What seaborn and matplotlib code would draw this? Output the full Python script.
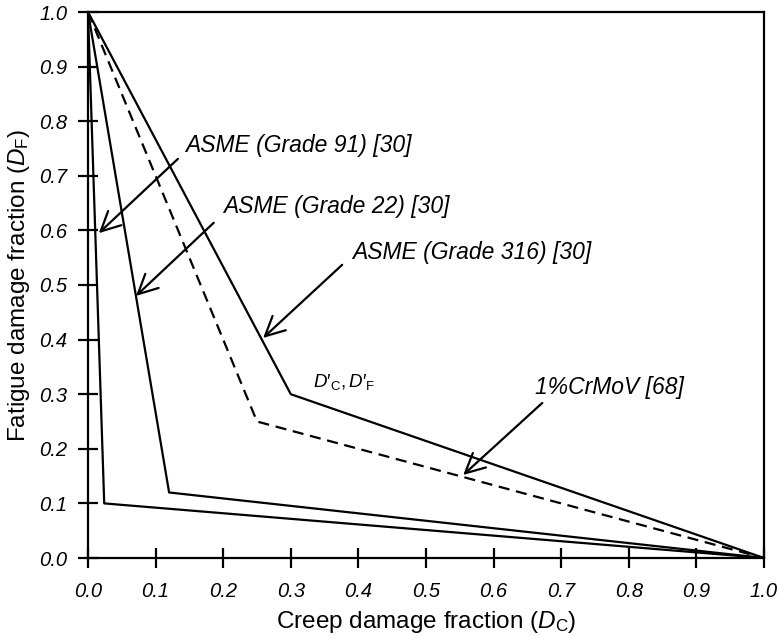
import matplotlib
matplotlib.use("Agg")
import matplotlib.pyplot as plt
import seaborn as sns
import pandas as pd

# Bilinear creep-fatigue interaction envelopes (creep fraction D_C, fatigue fraction D_F)
dc_grade91 = [0.0, 0.024, 1.0]
df_grade91 = [1.0, 0.10, 0.0]
dc_grade22 = [0.0, 0.12, 1.0]
df_grade22 = [1.0, 0.12, 0.0]
dc_grade316 = [0.0, 0.30, 1.0]
df_grade316 = [1.0, 0.30, 0.0]
dc_crmov = [0.0, 0.25, 1.0]
df_crmov = [1.0, 0.25, 0.0]

curve_names = ["ASME (Grade 91) [30]", "ASME (Grade 22) [30]",
               "ASME (Grade 316) [30]", "1%CrMoV [68]"]

ticks = [0.0, 0.1, 0.2, 0.3, 0.4, 0.5, 0.6, 0.7, 0.8, 0.9, 1.0]
tick_labels = ["0.0", "0.1", "0.2", "0.3", "0.4", "0.5", "0.6", "0.7", "0.8", "0.9", "1.0"]

frames = []
for name, xs, ys in zip(curve_names,
                        [dc_grade91, dc_grade22, dc_grade316, dc_crmov],
                        [df_grade91, df_grade22, df_grade316, df_crmov]):
    frames.append(pd.DataFrame({"Dc": xs, "Df": ys, "curve": name}))
data = pd.concat(frames, ignore_index=True)

sns.set_style("ticks")
plt.rcParams["font.family"] = ["Liberation Sans", "DejaVu Sans"]
plt.rcParams["mathtext.fontset"] = "custom"
plt.rcParams["mathtext.rm"] = "Liberation Sans"
plt.rcParams["mathtext.it"] = "Liberation Sans:italic"
plt.rcParams["text.color"] = "black"
plt.rcParams["axes.labelcolor"] = "black"
plt.rcParams["xtick.color"] = "black"
plt.rcParams["ytick.color"] = "black"

fig = plt.figure(figsize=(7.78, 6.36), dpi=100)
ax = fig.add_axes([88 / 778, 1 - 558 / 636, 676 / 778, 546 / 636])

sns.lineplot(data=data, x="Dc", y="Df", hue="curve", style="curve",
             palette={n: "black" for n in curve_names},
             dashes={curve_names[0]: "", curve_names[1]: "",
                     curve_names[2]: "", curve_names[3]: (5, 3)},
             sort=False, estimator=None, linewidth=1.6, legend=False, ax=ax)

ax.set_xlim(0, 1)
ax.set_ylim(0, 1)
ax.set_xticks(ticks)
ax.set_yticks(ticks)
ax.set_xticklabels(tick_labels, fontstyle="italic")
ax.set_yticklabels(tick_labels, fontstyle="italic")
ax.tick_params(direction="inout", length=14, width=1.6, labelsize=14.5,
               colors="black", labelcolor="black")
ax.tick_params(axis="x", pad=10)
ax.tick_params(axis="y", pad=8)
for side in ["left", "bottom", "top", "right"]:
    ax.spines[side].set_visible(True)
    ax.spines[side].set_linewidth(1.6)
    ax.spines[side].set_color("black")

ax.set_xlabel(r"Creep damage fraction ($\mathit{D}_{\mathrm{C}}$)", fontsize=17.5,
              labelpad=6, color="black")
ax.set_ylabel(r"Fatigue damage fraction ($\mathit{D}_{\mathrm{F}}$)", fontsize=17.5,
              labelpad=5, color="black")

# Curve labels with leader arrows
label_pos = [(0.1435, 0.756), (0.20, 0.643), (0.39, 0.56), (0.661, 0.313)]
arrow_start = [(0.133, 0.731), (0.186, 0.614), (0.376, 0.537), (0.672, 0.284)]
arrow_tip = [(0.016, 0.595), (0.071, 0.48), (0.259, 0.403), (0.555, 0.152)]

for name, (tx, ty), start, tip in zip(curve_names, label_pos, arrow_start, arrow_tip):
    ax.text(tx, ty, name, fontsize=16.5, fontstyle="italic", ha="left", va="center",
            color="black")
    ax.annotate("", xy=tip, xytext=start,
                arrowprops=dict(arrowstyle="->,head_length=0.7,head_width=0.35",
                                lw=1.6, color="black", mutation_scale=20,
                                shrinkA=0, shrinkB=0))

ax.text(0.333, 0.322,
        "$\\mathit{D}\\mathit{\u2032}_{\\mathrm{C}}, \\mathit{D}\\mathit{\u2032}_{\\mathrm{F}}$",
        fontsize=13.5, ha="left", va="center", color="black")

fig.savefig("out.png", dpi=100)
